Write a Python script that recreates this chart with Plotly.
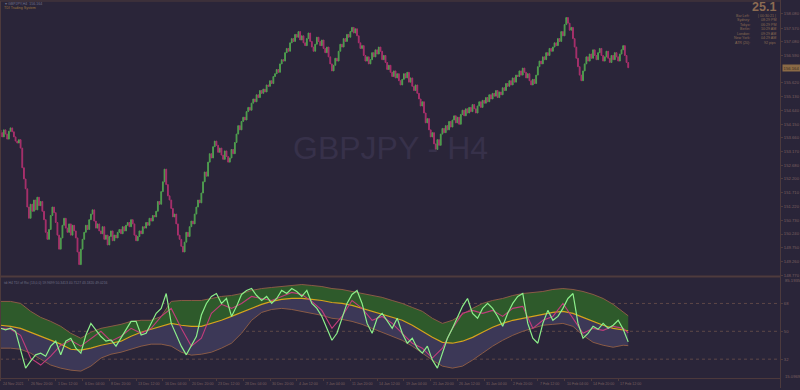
import plotly.graph_objects as go

# ---------------- data ----------------
# H4 closes of GBPJPY, 24 Nov 2021 00:00 .. 18 Feb 2022 12:00 (bar index 0..375)
close = [
    153.85, 153.70, 153.95, 153.80, 153.62, 153.90, 154.02, 153.88, 153.70, 153.55,
    153.48, 153.60, 153.30, 152.60, 152.20, 151.85, 151.20, 150.80, 151.30, 151.05,
    151.45, 151.10, 151.55, 151.25, 151.40, 151.05, 150.75, 150.30, 150.05, 150.40,
    150.90, 151.20, 151.00, 150.65, 150.20, 149.70, 150.10, 150.55, 150.80, 150.45,
    150.30, 150.60, 150.20, 150.55, 150.35, 150.10, 149.60, 149.15, 149.70, 150.05,
    150.30, 150.55, 150.40, 150.75, 150.95, 151.10, 150.70, 150.45, 150.60, 150.35,
    150.25, 150.50, 150.05, 150.20, 149.85, 150.15, 150.35, 150.00, 150.20, 150.10,
    150.30, 150.40, 150.25, 150.50, 150.35, 150.55, 150.65, 150.50, 150.75, 150.60,
    150.20, 150.00, 150.15, 150.35, 150.25, 150.50, 150.45, 150.65, 150.55, 150.80,
    150.70, 150.90, 150.85, 151.05, 151.40, 151.30, 151.75, 152.10, 152.55, 152.00,
    151.60, 151.45, 151.15, 150.85, 150.95, 150.60, 150.20, 150.05, 149.80, 149.60,
    149.95, 150.30, 150.15, 150.50, 150.70, 150.60, 150.95, 151.20, 151.45, 151.35,
    151.70, 152.10, 152.45, 152.30, 152.80, 153.10, 152.95, 153.35, 153.55, 153.40,
    153.15, 153.30, 153.05, 152.90, 153.20, 153.00, 152.80, 152.95, 153.25, 153.10,
    153.50, 153.80, 154.10, 153.95, 154.25, 154.40, 154.30, 154.60, 154.75, 154.65,
    154.90, 155.05, 154.95, 155.20, 155.10, 155.35, 155.25, 155.40, 155.30, 155.55,
    155.50, 155.70, 155.60, 155.85, 155.95, 156.10, 156.00, 156.30, 156.45, 156.40,
    156.70, 156.85, 156.75, 157.05, 157.20, 157.10, 157.35, 157.25, 157.45, 157.15,
    157.30, 157.05, 156.95, 157.20, 157.40, 157.10, 156.90, 156.75, 157.00, 157.25,
    157.10, 156.95, 157.15, 156.85, 156.70, 156.90, 156.55, 156.30, 156.05, 156.25,
    156.50, 156.40, 156.75, 157.00, 156.90, 157.20, 157.10, 157.35, 157.25, 157.45,
    157.60, 157.40, 157.55, 157.30, 157.05, 156.85, 156.95, 156.60, 156.40, 156.55,
    156.30, 156.45, 156.70, 156.55, 156.80, 156.65, 156.90, 156.75, 156.45, 156.60,
    156.35, 156.10, 156.25, 156.00, 155.85, 156.05, 155.80, 155.95, 155.70, 155.55,
    155.75, 155.95, 155.80, 156.00, 155.65, 155.80, 155.50, 155.35, 155.55, 155.25,
    155.05, 154.80, 154.95, 154.55, 154.20, 154.35, 153.95, 153.70, 153.85, 153.45,
    153.25, 153.60, 153.40, 153.80, 154.00, 153.85, 154.10, 153.95, 154.25, 154.05,
    154.30, 154.45, 154.20, 154.40, 154.15, 154.50, 154.65, 154.45, 154.70, 154.55,
    154.75, 154.60, 154.85, 154.70, 154.55, 154.80, 154.95, 154.75, 155.00, 154.90,
    155.10, 154.95, 155.20, 155.05, 155.25, 155.15, 155.35, 155.10, 155.30, 155.20,
    155.45, 155.35, 155.60, 155.50, 155.70, 155.55, 155.80, 155.65, 155.90, 155.85,
    156.05, 155.90, 156.15, 156.00, 155.80, 155.95, 155.70, 155.55, 155.75, 155.60,
    155.90, 156.20, 156.40, 156.30, 156.55, 156.45, 156.70, 156.60, 156.85, 156.75,
    156.90, 157.05, 156.95, 157.20, 157.10, 157.45, 157.30, 157.70, 157.95, 157.75,
    157.50, 157.60, 157.20, 156.90, 156.50, 156.20, 155.90, 155.70, 156.05, 156.30,
    156.55, 156.40, 156.65, 156.50, 156.80, 156.60, 156.45, 156.70, 156.85, 156.60,
    156.40, 156.55, 156.75, 156.50, 156.35, 156.60, 156.45, 156.70, 156.55, 156.40,
    156.65, 156.80, 156.95, 156.60, 156.35, 156.164,
]
first_open = 153.95

# TDI indicator (RSI 13) sampled every 6 bars (last point = last bar)
tdi_bars = list(range(0, 375, 6)) + [375]
tdi_upper = [
    69.3, 69.3, 68.0, 62.9, 59.0, 56.4, 53.2, 48.7, 45.5, 49.4,
    51.9, 53.2, 54.5, 56.4, 57.1, 57.1, 59.6, 69.3, 69.9, 69.9,
    69.9, 71.2, 72.5, 73.1, 74.4, 76.4, 77.6, 78.3, 78.9, 79.6,
    80.2, 79.6, 78.9, 77.6, 77.0, 75.7, 74.4, 73.1, 71.9, 69.9,
    68.0, 65.4, 62.9, 58.4, 55.1, 57.1, 60.9, 64.8, 68.0, 69.9,
    71.2, 73.1, 74.4, 75.1, 75.7, 77.0, 77.6, 77.0, 75.7, 73.8,
    71.2, 67.4, 62.2, 59.9699,
]
tdi_base = [
    53.9, 53.2, 51.9, 49.4, 46.8, 44.2, 41.7, 38.4, 37.8, 39.1,
    41.0, 42.3, 43.6, 46.8, 49.4, 51.3, 53.2, 55.1, 53.9, 53.2,
    53.2, 55.1, 57.1, 59.6, 62.2, 64.8, 67.4, 69.3, 70.6, 71.2,
    71.2, 70.6, 69.9, 68.6, 68.0, 66.7, 64.8, 62.9, 60.9, 59.0,
    57.1, 53.9, 50.0, 46.1, 42.9, 42.3, 43.6, 46.1, 49.4, 52.6,
    55.1, 57.1, 58.4, 59.6, 60.9, 62.2, 62.9, 61.6, 59.0, 56.4,
    53.9, 51.9, 50.6, 50.3413,
]
tdi_lower = [
    39.1, 39.1, 38.4, 35.9, 32.0, 28.2, 26.2, 24.9, 24.3, 27.5,
    32.7, 35.2, 36.5, 38.4, 40.4, 41.7, 41.7, 40.4, 36.5, 34.6,
    35.2, 36.5, 39.1, 42.3, 48.7, 57.1, 62.2, 64.1, 64.8, 64.1,
    62.9, 61.6, 60.3, 58.4, 57.7, 56.4, 54.5, 51.9, 49.4, 46.8,
    44.2, 40.4, 35.9, 31.4, 27.5, 26.2, 27.5, 31.4, 35.9, 40.4,
    44.2, 47.4, 50.0, 51.9, 53.9, 54.5, 55.1, 53.2, 47.4, 42.9,
    41.0, 39.7, 41.0, 40.7127,
]
tdi_signal = [
    52.0, 51.3, 47.4, 32.7, 28.2, 34.0, 41.0, 44.2, 40.4, 45.5,
    50.0, 43.6, 46.8, 51.9, 48.7, 51.9, 59.6, 64.8, 51.9, 40.4,
    45.5, 61.6, 67.4, 64.8, 68.0, 72.5, 71.2, 69.9, 72.5, 75.1,
    73.8, 69.3, 63.5, 51.9, 59.6, 69.9, 64.8, 57.1, 59.6, 55.1,
    48.7, 42.3, 39.1, 32.7, 39.1, 51.9, 61.6, 63.5, 61.6, 63.5,
    59.6, 64.8, 66.1, 51.9, 57.1, 59.6, 68.0, 58.4, 48.7, 51.9,
    50.6, 53.2, 51.9, 49.0216,
]
# RSI price line sampled every 3 bars (last point = last bar)
rsi_bars = list(range(0, 375, 3)) + [375]
rsi_line = [
    52.0, 50.9, 52.0, 50.0, 38.0, 26.2, 30.7, 34.8, 35.9, 33.9,
    40.4, 43.6, 34.8, 43.6, 45.5, 39.1, 35.9, 47.6, 55.1, 50.9,
    46.6, 43.6, 44.4, 40.4, 45.5, 50.9, 56.4, 56.4, 47.6, 48.7,
    55.1, 61.6, 64.8, 74.4, 55.1, 47.6, 40.4, 34.8, 41.2, 46.6,
    60.5, 68.0, 72.5, 74.4, 68.0, 71.2, 59.6, 66.1, 73.8, 76.4,
    77.6, 73.1, 69.9, 72.5, 68.0, 71.2, 76.4, 74.4, 77.6, 75.7,
    72.5, 76.4, 68.0, 64.8, 59.6, 51.9, 44.2, 48.7, 58.4, 68.0,
    73.8, 76.4, 68.0, 55.1, 48.7, 58.4, 61.6, 57.1, 51.9, 58.4,
    48.7, 42.3, 45.5, 39.1, 35.9, 40.4, 31.4, 26.2, 35.9, 45.5,
    51.9, 59.6, 66.1, 71.2, 61.6, 58.4, 64.8, 68.0, 64.8, 59.6,
    53.2, 61.6, 68.0, 72.5, 74.4, 55.1, 45.5, 42.3, 55.1, 63.5,
    57.1, 59.6, 64.8, 71.2, 74.4, 55.1, 45.5, 48.7, 53.2, 51.3,
    55.1, 51.9, 53.9, 57.1, 51.3, 43.1820,
]

price_ticks = [158.080, 157.570, 157.080, 156.590, 155.620, 155.130, 154.640,
               154.150, 153.660, 153.170, 152.680, 152.200, 151.710, 151.220,
               150.730, 150.240, 149.750, 149.260, 148.770]
last_price = 156.164
tdi_levels = [68, 50, 32]
tdi_max_label = "85.1935"
tdi_min_label = "15.0969"

time_label_bars = [0, 17, 33, 49, 65, 81, 97, 113, 129, 145, 161, 177, 193,
                   209, 225, 241, 257, 273, 289, 305, 321, 337, 353, 369]
time_labels = ["24 Nov 2021", "26 Nov 20:00", "1 Dec 12:00", "6 Dec 04:00",
               "8 Dec 20:00", "13 Dec 12:00", "16 Dec 04:00", "20 Dec 20:00",
               "23 Dec 12:00", "28 Dec 04:00", "30 Dec 20:00", "4 Jan 12:00",
               "7 Jan 04:00", "11 Jan 20:00", "14 Jan 12:00", "19 Jan 04:00",
               "21 Jan 20:00", "26 Jan 12:00", "31 Jan 04:00", "2 Feb 20:00",
               "7 Feb 12:00", "10 Feb 04:00", "14 Feb 20:00", "17 Feb 12:00"]

info_keys = ["Bar Left:", "Sydney:", "Tokyo:", "Berlin:", "London:", "New York:", "ATR (20):"]
info_vals = ["| 00:30:21 |", "08:29 PM", "06:29 PM", "10:29 AM", "09:29 AM", "04:29 AM", "92 pips"]
spread_text = "25.1"

# ---------------- derived OHLC ----------------
bars = list(range(len(close)))
opens = [first_open] + close[:-1]
highs = [max(o, c) for o, c in zip(opens, close)]
lows = [min(o, c) for o, c in zip(opens, close)]

# ---------------- style ----------------
W, H = 800, 390
BG = "#2a2539"
FRAME = "#4e3b3d"
AXTXT = "#7a6060"
WATER = "#37314a"
BULL = "#4f9e4f"
BEAR = "#a8306c"
FONT = "Liberation Sans"

PLOT_R = 781          # right edge of chart area (px)
PX_PER_BAR = 1.676
X_RANGE = [-0.3, PLOT_R / PX_PER_BAR - 0.3]


def py(y):
    return 1 - y / H


def px(x):
    return x / W


fig = go.Figure()

fig.add_trace(go.Candlestick(
    x=bars, open=opens, high=highs, low=lows, close=close,
    increasing=dict(line=dict(color=BULL, width=1), fillcolor=BULL),
    decreasing=dict(line=dict(color=BEAR, width=1), fillcolor=BEAR),
    whiskerwidth=0, xaxis="x", yaxis="y", hoverinfo="skip",
))

# TDI fills
fig.add_trace(go.Scatter(x=tdi_bars, y=tdi_lower, mode="lines", line=dict(width=0),
                         xaxis="x2", yaxis="y2", hoverinfo="skip"))
fig.add_trace(go.Scatter(x=tdi_bars, y=tdi_base, mode="lines", line=dict(width=0),
                         fill="tonexty", fillcolor="#3c3857", xaxis="x2", yaxis="y2", hoverinfo="skip"))
fig.add_trace(go.Scatter(x=tdi_bars, y=tdi_upper, mode="lines", line=dict(width=0),
                         fill="tonexty", fillcolor="#2e5a2b", xaxis="x2", yaxis="y2", hoverinfo="skip"))
# TDI lines
for ys, col, w in [(tdi_upper, "#8a5b46", 1), (tdi_lower, "#8a5b46", 1),
                   (tdi_base, "#d6a31c", 1.2)]:
    fig.add_trace(go.Scatter(x=tdi_bars, y=ys, mode="lines", line=dict(color=col, width=w),
                             xaxis="x2", yaxis="y2", hoverinfo="skip"))
fig.add_trace(go.Scatter(x=tdi_bars, y=tdi_signal, mode="lines",
                         line=dict(color="#c23c7c", width=1.1), xaxis="x2", yaxis="y2", hoverinfo="skip"))
fig.add_trace(go.Scatter(x=rsi_bars, y=rsi_line, mode="lines",
                         line=dict(color="#8cf08a", width=1.2), xaxis="x2", yaxis="y2", hoverinfo="skip"))

shapes = []
# level lines in TDI pane
for lv in tdi_levels:
    shapes.append(dict(type="line", xref="paper", yref="y2", x0=0, x1=px(PLOT_R), y0=lv, y1=lv,
                       line=dict(color="#5e4848", width=1, dash="dot"), layer="below"))
# frame lines
for (x0, y0, x1, y1, w) in [(0.5, 1, 0.5, 380, 1), (PLOT_R + 0.5, 0, PLOT_R + 0.5, 390, 1),
                            (0, 1, PLOT_R, 1, 1), (0, 278, PLOT_R, 278, 2),
                            (0, 380.5, PLOT_R, 380.5, 1)]:
    shapes.append(dict(type="line", xref="paper", yref="paper", x0=px(x0), x1=px(x1),
                       y0=py(y0), y1=py(y1), line=dict(color=FRAME, width=w)))

ann = []
# watermark
ann.append(dict(text="GBPJPY - H4", x=px(391), y=py(149), xref="paper", yref="paper",
                showarrow=False, font=dict(family=FONT, size=32, color=WATER)))
# top-left labels
ann.append(dict(text="▾ GBPJPY,H4  156.164", x=px(3), y=py(4), xref="paper", yref="paper",
                xanchor="left", yanchor="middle", showarrow=False,
                font=dict(family=FONT, size=3.6, color="#70708a")))
ann.append(dict(text="TDI Trading System", x=px(2), y=py(8.5), xref="paper", yref="paper",
                xanchor="left", yanchor="middle", showarrow=False,
                font=dict(family=FONT, size=3.6, color="#9a7440")))
# top-right info panel
ann.append(dict(text="<b>" + spread_text + "</b>", x=px(779), y=py(7.5), xref="paper", yref="paper",
                xanchor="right", yanchor="middle", showarrow=False,
                font=dict(family=FONT, size=12.5, color="#8c6b52")))
for i, (k, v) in enumerate(zip(info_keys, info_vals)):
    yy = 15.7 + i * 4.55
    ann.append(dict(text=k, x=px(753), y=py(yy), xref="paper", yref="paper", xanchor="right",
                    yanchor="middle", showarrow=False, font=dict(family=FONT, size=3.6, color="#8c6b52")))
    ann.append(dict(text=v, x=px(779), y=py(yy), xref="paper", yref="paper", xanchor="right",
                    yanchor="middle", showarrow=False, font=dict(family=FONT, size=3.6, color="#8c6b52")))
# current price label
ann.append(dict(text=f"{last_price:.3f}", x=px(782.5), y=last_price, xref="paper", yref="y",
                xanchor="left", yanchor="middle", showarrow=False, bgcolor="#8a6a46",
                borderpad=0.6, font=dict(family=FONT, size=4.2, color="#3a2c22")))
# TDI pane legend
ann.append(dict(text="tdi H4 TDI of Rsi (13,0,0) 59.9699 50.3413 40.7127 43.1820 49.0216",
                x=px(2), y=py(284), xref="paper", yref="paper", xanchor="left", yanchor="middle",
                showarrow=False, font=dict(family=FONT, size=3.4, color="#6e6e84")))
# TDI pane extreme labels
ann.append(dict(text=tdi_max_label, x=px(783.5), y=py(282), xref="paper", yref="paper",
                xanchor="left", yanchor="middle", showarrow=False,
                font=dict(family=FONT, size=4.2, color=AXTXT)))
ann.append(dict(text=tdi_min_label, x=px(783.5), y=py(378), xref="paper", yref="paper",
                xanchor="left", yanchor="middle", showarrow=False,
                font=dict(family=FONT, size=4.2, color=AXTXT)))
# time labels
for b, t in zip(time_label_bars, time_labels):
    ann.append(dict(text=t, x=b, y=py(386), xref="x2", yref="paper", xanchor="left",
                    yanchor="middle", showarrow=False,
                    font=dict(family=FONT, size=3.6, color=AXTXT)))

fig.update_layout(
    width=W, height=H, margin=dict(l=0, r=0, t=0, b=0),
    paper_bgcolor=BG, plot_bgcolor=BG, showlegend=False,
    xaxis=dict(domain=[0, px(PLOT_R)], range=X_RANGE, anchor="y", showgrid=False,
               zeroline=False, showticklabels=False, ticks="", rangeslider=dict(visible=False),
               showline=False),
    yaxis=dict(domain=[py(277), py(2)], range=[148.759, 158.505], side="right", anchor="x",
               showgrid=False, zeroline=False, tickvals=price_ticks,
               ticktext=[f"{v:.3f}" for v in price_ticks], ticks="outside", ticklen=2,
               tickcolor=FRAME, tickfont=dict(family=FONT, size=4.2, color=AXTXT)),
    xaxis2=dict(domain=[0, px(PLOT_R)], range=X_RANGE, anchor="y2", showgrid=False,
                zeroline=False, tickvals=time_label_bars, ticktext=[""] * len(time_label_bars),
                ticks="outside", ticklen=2, tickcolor=FRAME, showline=False),
    yaxis2=dict(domain=[py(380), py(279)], range=[19.8, 84.7], side="right", anchor="x2",
                showgrid=False, zeroline=False, tickvals=tdi_levels,
                ticktext=[str(v) for v in tdi_levels], ticks="outside", ticklen=2,
                tickcolor=FRAME, tickfont=dict(family=FONT, size=4.2, color=AXTXT)),
    shapes=shapes, annotations=ann, hovermode=False,
)

fig.write_html("out.html")
